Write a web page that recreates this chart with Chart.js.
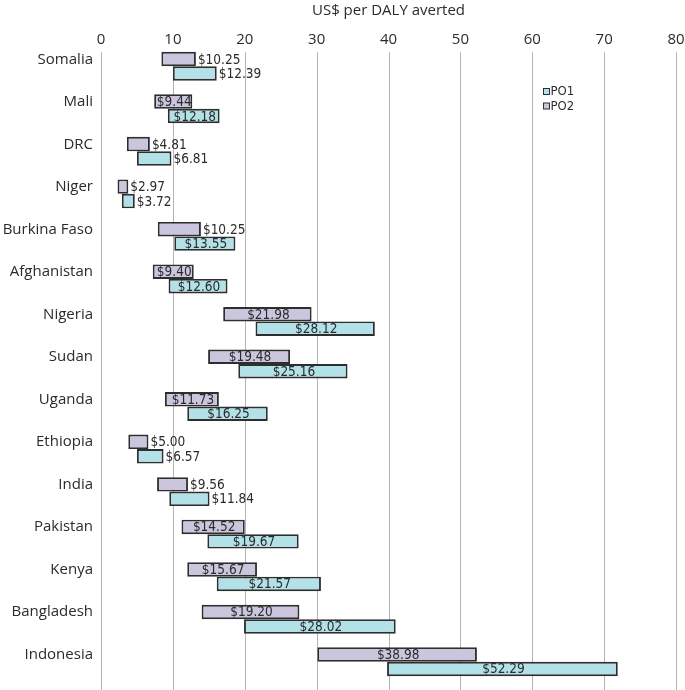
<!DOCTYPE html>
<html>
<head>
<meta charset="utf-8">
<script src="https://cdn.jsdelivr.net/npm/chart.js@4/dist/chart.umd.min.js"></script>
<style>
  html, body { margin: 0; padding: 0; background: #ffffff; }
  #wrap { width: 685px; height: 690px; position: relative; }
</style>
</head>
<body>
<div id="wrap"><canvas id="c" width="685" height="690"></canvas></div>
<script>
// ---- data ----
const countries = ["Somalia", "Mali", "DRC", "Niger", "Burkina Faso", "Afghanistan", "Nigeria", "Sudan",
  "Uganda", "Ethiopia", "India", "Pakistan", "Kenya", "Bangladesh", "Indonesia"];

// PO2 ranges (low, high) in US$ per DALY averted
const po2Low  = [8.4, 7.4, 3.6, 2.3, 7.9, 7.2, 17.0, 14.9, 8.9, 3.8, 7.8, 11.2, 12.0, 14.0, 30.1];
const po2High = [13.2, 12.7, 6.8, 3.8, 13.9, 12.9, 29.3, 26.3, 16.4, 6.6, 12.1, 20.0, 21.7, 27.6, 52.3];
const po2Label = ["$10.25", "$9.44", "$4.81", "$2.97", "$10.25", "$9.40", "$21.98", "$19.48",
  "$11.73", "$5.00", "$9.56", "$14.52", "$15.67", "$19.20", "$38.98"];

// PO1 ranges (low, high)
const po1Low  = [10.0, 9.3, 5.0, 2.9, 10.2, 9.4, 21.5, 19.1, 12.0, 5.0, 9.5, 14.8, 16.1, 19.9, 39.8];
const po1High = [16.1, 16.5, 9.8, 4.7, 18.7, 17.6, 38.1, 34.3, 23.2, 8.7, 15.1, 27.5, 30.6, 41.0, 71.9];
const po1Label = ["$12.39", "$12.18", "$6.81", "$3.72", "$13.55", "$12.60", "$28.12", "$25.16",
  "$16.25", "$6.57", "$11.84", "$19.67", "$21.57", "$28.02", "$52.29"];

const xTicks = [0, 10, 20, 30, 40, 50, 60, 70, 80];
const axisTitle = "US$ per DALY averted";

// ---- styling ----
const PO1_COLOR = "#b3e1e8";
const PO2_COLOR = "#cbc6de";
const BORDER = "#2e2e2e";
const TEXT = "#2b2b2b";
const MAIN_FONT = "'Open Sans', 'Noto Sans', sans-serif";
const VALUE_FONT = "'Liberation Sans Narrow', 'DejaVu Sans Condensed', 'Liberation Sans', sans-serif";

const pair = (lo, hi) => lo.map((v, i) => [v, hi[i]]);

const gridPlugin = {
  id: 'customGrid',
  beforeDatasetsDraw(chart) {
    const { ctx, chartArea, scales } = chart;
    const xs = scales.x;
    ctx.save();
    ctx.strokeStyle = "#b5b5b5";
    ctx.lineWidth = 1;
    xTicks.forEach(t => {
      const px = Math.round(xs.getPixelForValue(t)) + 0.5;
      ctx.beginPath();
      ctx.moveTo(px, chartArea.top + 7);
      ctx.lineTo(px, chart.height);
      ctx.stroke();
    });
    ctx.restore();
  }
};

const valueLabelPlugin = {
  id: 'valueLabels',
  afterDatasetsDraw(chart) {
    const { ctx } = chart;
    ctx.save();
    ctx.font = "13.5px " + VALUE_FONT;
    ctx.fillStyle = TEXT;
    ctx.textBaseline = "middle";
    chart.data.datasets.forEach((ds, di) => {
      const meta = chart.getDatasetMeta(di);
      meta.data.forEach((el, i) => {
        const p = el.getProps(['x', 'y', 'base'], true);
        const left = Math.min(p.x, p.base), right = Math.max(p.x, p.base);
        const txt = ds.valueLabels[i];
        const tw = ctx.measureText(txt).width;
        if (tw + 3 <= right - left) {
          ctx.textAlign = "center";
          ctx.fillText(txt, (left + right) / 2 + 1, p.y + 1);
        } else {
          ctx.textAlign = "left";
          ctx.fillText(txt, right + 2, p.y + 1);
        }
      });
    });
    ctx.restore();
  }
};

const legendPlugin = {
  id: 'insideLegend',
  afterDraw(chart) {
    const { ctx } = chart;
    const items = [chart.data.datasets[1], chart.data.datasets[0]]; // PO1 then PO2
    ctx.save();
    ctx.font = "13px " + VALUE_FONT;
    ctx.textBaseline = "middle";
    ctx.textAlign = "left";
    items.forEach((ds, k) => {
      const y = 91.5 + k * 14.5;
      ctx.fillStyle = ds.backgroundColor;
      ctx.fillRect(543.5, y - 3, 6, 6);
      ctx.strokeStyle = BORDER;
      ctx.lineWidth = 1;
      ctx.strokeRect(543.5, y - 3, 6, 6);
      ctx.fillStyle = TEXT;
      ctx.fillText(ds.label, 550.5, y + 0.5);
    });
    ctx.restore();
  }
};

new Chart(document.getElementById('c'), {
  type: 'bar',
  data: {
    labels: countries,
    datasets: [
      { label: 'PO2', data: pair(po2Low, po2High), valueLabels: po2Label,
        backgroundColor: PO2_COLOR, borderColor: BORDER, borderWidth: 1.9, borderSkipped: false },
      { label: 'PO1', data: pair(po1Low, po1High), valueLabels: po1Label,
        backgroundColor: PO1_COLOR, borderColor: BORDER, borderWidth: 1.9, borderSkipped: false }
    ]
  },
  options: {
    indexAxis: 'y',
    responsive: false,
    animation: false,
    layout: { padding: { left: 0, right: 9, top: 0, bottom: 7 } },
    datasets: { bar: { categoryPercentage: 0.68, barPercentage: 1.0 } },
    plugins: {
      legend: { display: false },
      tooltip: { enabled: false }
    },
    scales: {
      x: {
        position: 'top',
        min: 0, max: 80,
        grid: { display: false, drawTicks: false },
        border: { display: false },
        afterBuildTicks(scale) { scale.ticks = xTicks.map(v => ({ value: v })); },
        afterFit(scale) {
          scale.height = 45;
          scale.paddingLeft = 0; scale.paddingRight = 0;
        },
        ticks: { padding: -4, color: TEXT, font: { family: MAIN_FONT, size: 15 } },
        title: { display: true, text: axisTitle, color: TEXT, padding: { top: 2, bottom: 0 },
          font: { family: MAIN_FONT, size: 15 } }
      },
      y: {
        grid: { display: false, drawTicks: false },
        border: { display: false },
        afterFit(scale) {
          scale.width = 101;
          scale.paddingTop = 0; scale.paddingBottom = 0;
        },
        ticks: { padding: 8, labelOffset: -7, color: TEXT, font: { family: MAIN_FONT, size: 15 } }
      }
    }
  },
  plugins: [gridPlugin, valueLabelPlugin, legendPlugin]
});
</script>
</body>
</html>
